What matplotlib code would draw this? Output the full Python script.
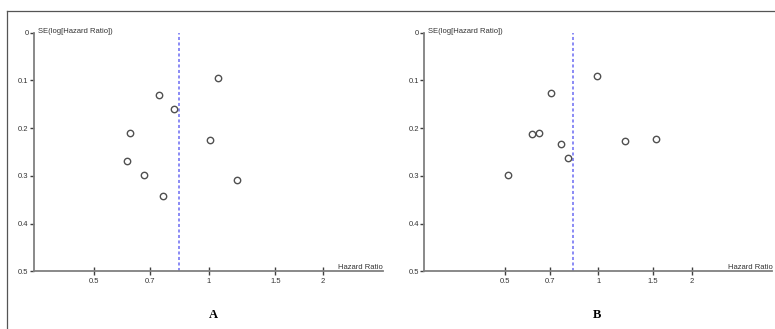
#!/usr/bin/env python3

import matplotlib
matplotlib.use("Agg")
import matplotlib.pyplot as plt
from matplotlib.lines import Line2D

# panel A
hr_a = [1.056, 0.739, 0.809, 0.620, 1.010, 0.608, 0.677, 1.187, 0.758]
se_a = [0.095, 0.131, 0.160, 0.211, 0.225, 0.268, 0.297, 0.308, 0.341]
pooled_a = 0.834
xlim_a = (0.347, 2.88)

# panel B
hr_b = [0.988, 0.706, 0.612, 0.646, 0.757, 0.797, 0.513, 1.219, 1.533]
se_b = [0.090, 0.127, 0.212, 0.210, 0.233, 0.262, 0.297, 0.227, 0.223]
pooled_b = 0.831
xlim_b = (0.276, 3.62)

x_ticks = [0.5, 0.7, 1, 1.5, 2]
x_tick_labels = ["0.5", "0.7", "1", "1.5", "2"]
y_ticks = [0, 0.1, 0.2, 0.3, 0.4, 0.5]
y_tick_labels = ["0", "0.1", "0.2", "0.3", "0.4", "0.5"]
panel_labels = ["A", "B"]

AXIS_COLOR = "#808080"
FONT = "Liberation Sans"


def funnel(ax, hr, se, pooled, xlim):
    ax.set_xscale("log")
    ax.set_xlim(*xlim)
    ax.set_ylim(0.5, 0)

    ax.axvline(pooled, color="#6b6bf2", lw=1.1, dashes=(2, 1.6))
    ax.plot(hr, se, "o", ms=4.6, mfc="white", mec="#505050", mew=1.0, ls="none")

    for side in ["top", "right"]:
        ax.spines[side].set_visible(False)
    for side in ["left", "bottom"]:
        ax.spines[side].set_color(AXIS_COLOR)
        ax.spines[side].set_linewidth(1.3)

    ax.set_xticks(x_ticks)
    ax.set_xticklabels(x_tick_labels)
    ax.xaxis.set_minor_locator(plt.NullLocator())
    ax.set_yticks(y_ticks)
    ax.set_yticklabels(y_tick_labels)

    ax.tick_params(axis="x", direction="inout", length=6, width=1.0, color="#404040",
                   labelsize=5.5, pad=1.5, labelcolor="#333333")
    ax.tick_params(axis="y", direction="out", length=3, width=1.0, color="#404040",
                   labelsize=5.5, pad=1.0, labelcolor="#333333")
    for lab in ax.get_xticklabels() + ax.get_yticklabels():
        lab.set_fontfamily(FONT)

    ax.text(0.012, 1.0, "SE(log[Hazard Ratio])", transform=ax.transAxes,
            ha="left", va="baseline", fontsize=5.5, family=FONT, color="#333333")
    ax.text(1.0, 0.012, "Hazard Ratio", transform=ax.transAxes,
            ha="right", va="baseline", fontsize=5.5, family=FONT, color="#333333")


fig = plt.figure(figsize=(7.75, 3.29), dpi=100)

ax_a = fig.add_axes([0.0439, 0.1748, 0.4503, 0.7258])
ax_b = fig.add_axes([0.5475, 0.1748, 0.4490, 0.7258])
funnel(ax_a, hr_a, se_a, pooled_a, xlim_a)
funnel(ax_b, hr_b, se_b, pooled_b, xlim_b)

fig.text(213 / 775, 1 - 315 / 329, panel_labels[0], ha="center", va="center",
         fontsize=9, fontweight="bold", family="Liberation Serif")
fig.text(597 / 775, 1 - 315 / 329, panel_labels[1], ha="center", va="center",
         fontsize=9, fontweight="bold", family="Liberation Serif")

# outer frame (top and left edges only)
fig.add_artist(Line2D([7 / 775, 1.0], [1 - 11 / 329, 1 - 11 / 329],
                      transform=fig.transFigure, color="#555555", lw=0.9))
fig.add_artist(Line2D([7 / 775, 7 / 775], [0.0, 1 - 11 / 329],
                      transform=fig.transFigure, color="#555555", lw=0.9))

fig.savefig("out.png", dpi=100)
